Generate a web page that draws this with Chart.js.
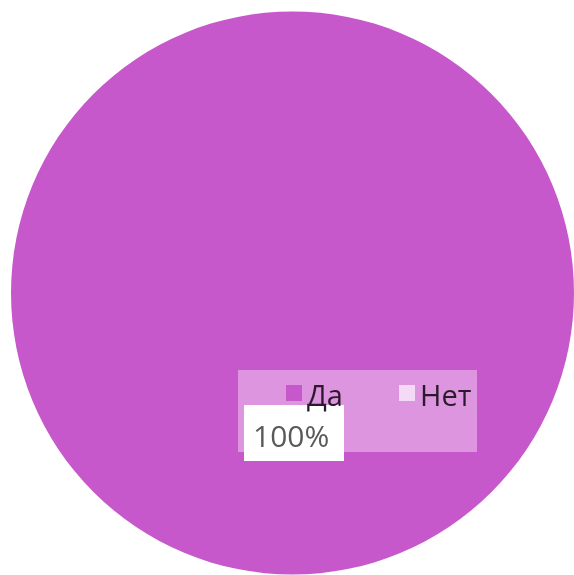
<!DOCTYPE html>
<html>
<head>
<meta charset="utf-8">
<script src="https://cdn.jsdelivr.net/npm/chart.js@4"></script>
<style>
  html, body { margin: 0; padding: 0; background: #fff; }
  #wrap { width: 574px; height: 575px; }
</style>
</head>
<body>
<div id="wrap"><canvas id="pie"></canvas></div>
<script>
// ответы и доли
const labels = ['Да', 'Нет'];
const values = [100, 0];
const colors = ['#C658CC', '#F5DAF6'];

// подпись доли и легенда рисуются поверх круга
const overlayPlugin = {
  id: 'overlay',
  afterDraw(chart) {
    const ctx = chart.ctx;
    const total = values.reduce((a, b) => a + b, 0);
    ctx.save();
    ctx.textBaseline = 'alphabetic';

    // фон легенды
    ctx.fillStyle = '#DC95DE';
    ctx.fillRect(238, 370, 239, 82);

    // подпись значения
    ctx.fillStyle = '#FFFFFF';
    ctx.fillRect(244, 405, 100, 56);
    ctx.fillStyle = '#595959';
    ctx.font = '30px "Open Sans", sans-serif';
    const pct = Math.round(values[0] / total * 100) + '%';
    ctx.fillText(pct, 253, 447);

    // элементы легенды
    ctx.font = '29px "Open Sans", sans-serif';
    const itemX = [286, 399];
    labels.forEach((label, i) => {
      ctx.fillStyle = colors[i];
      ctx.fillRect(itemX[i], 385, 16, 16);
      ctx.fillStyle = '#2B1A2C';
      ctx.fillText(label, itemX[i] + 21, 406);
    });

    ctx.restore();
  }
};

new Chart(document.getElementById('pie'), {
  type: 'pie',
  data: {
    labels: labels,
    datasets: [{
      data: values,
      backgroundColor: colors,
      borderWidth: 0
    }]
  },
  options: {
    responsive: true,
    maintainAspectRatio: false,
    animation: false,
    layout: { padding: { left: 11, top: 11, right: 0, bottom: 0 } },
    plugins: {
      legend: { display: false },
      tooltip: { enabled: false }
    }
  },
  plugins: [overlayPlugin]
});
</script>
</body>
</html>
